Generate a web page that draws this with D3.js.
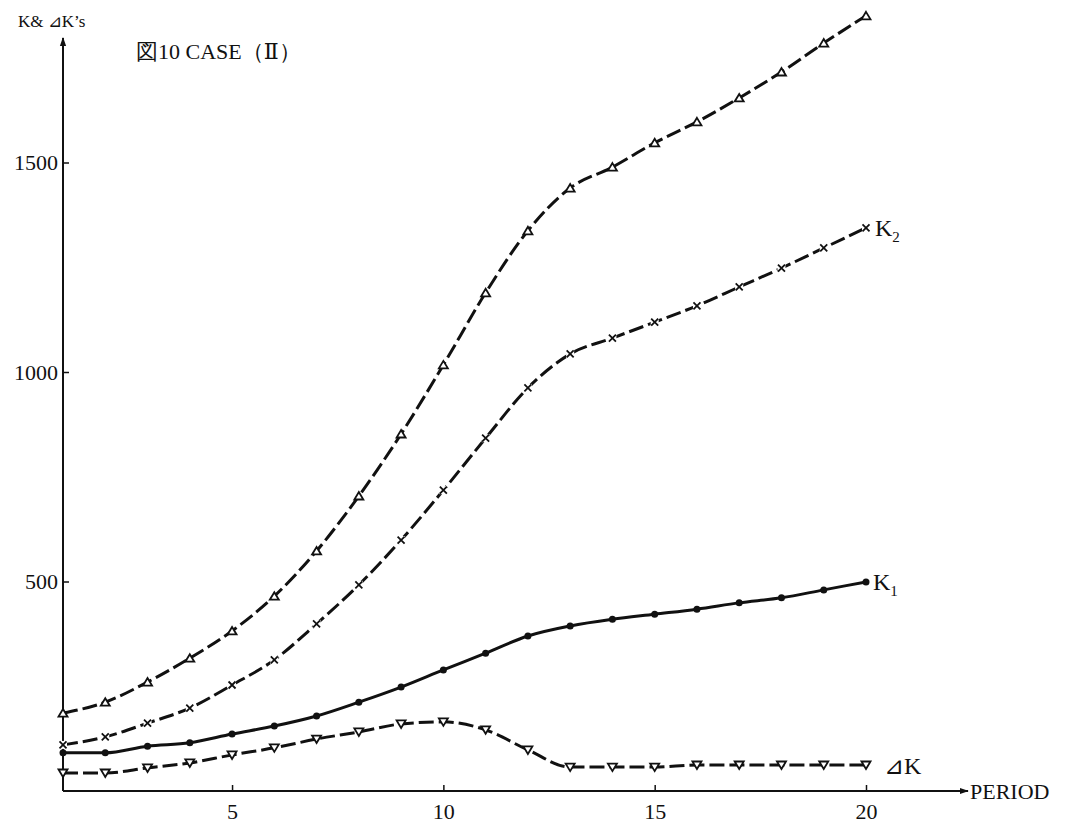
<!DOCTYPE html>
<html>
<head>
<meta charset="utf-8">
<script src="https://cdn.jsdelivr.net/npm/d3@7"></script>
<style>
  body { margin: 0; background: #fff; }
  svg { display: block; font-family: "Liberation Serif", "DejaVu Serif", serif; }
  .tick text { font-size: 22px; fill: #111; font-family: "Liberation Serif", "DejaVu Serif", serif; }
  .tick line { stroke: #111; stroke-width: 1.5; }
</style>
</head>
<body>
<svg></svg>
<script>
// period 1..20
const periods = d3.range(1, 21);
// values
const kTotal = [186, 212, 260, 317, 382, 465, 573, 704, 852, 1017, 1189, 1337, 1439, 1489, 1547, 1597, 1654, 1716, 1785, 1850];
const k2 = [110, 129, 162, 198, 253, 313, 399, 492, 599, 718, 842, 962, 1043, 1081, 1119, 1158, 1203, 1248, 1296, 1344];
const k1 = [91, 91, 107, 115, 136, 155, 179, 212, 248, 289, 329, 370, 394, 410, 422, 434, 449, 461, 480, 499];
const dK = [43, 43, 55, 67, 86, 103, 124, 141, 160, 165, 146, 98, 57, 57, 57, 62, 62, 62, 62, 62];
const xTicks = [5, 10, 15, 20];
const yTicks = [500, 1000, 1500];

const svg = d3.select('svg')
  .attr('width', 1080)
  .attr('height', 826);

const xScale = d3.scaleLinear().domain([1, 20]).range([63, 866]);
const yScale = d3.scaleLinear().domain([0, 1500]).range([791, 162.5]);

const defs = svg.append('defs');
defs.append('marker')
  .attr('id', 'arrow')
  .attr('viewBox', '0 0 10 10')
  .attr('refX', 9).attr('refY', 5)
  .attr('markerWidth', 9).attr('markerHeight', 9)
  .attr('markerUnits', 'userSpaceOnUse')
  .attr('orient', 'auto')
  .append('path')
  .attr('d', 'M0,1.5 L10,5 L0,8.5 Z')
  .attr('fill', '#111');

// axis lines with arrows
svg.append('line')
  .attr('x1', xScale(1)).attr('y1', yScale(0))
  .attr('x2', xScale(1)).attr('y2', 38)
  .attr('stroke', '#111').attr('stroke-width', 2)
  .attr('marker-end', 'url(#arrow)');
svg.append('line')
  .attr('x1', xScale(1)).attr('y1', yScale(0))
  .attr('x2', 968).attr('y2', yScale(0))
  .attr('stroke', '#111').attr('stroke-width', 2)
  .attr('marker-end', 'url(#arrow)');

const xAxisG = svg.append('g')
  .attr('transform', `translate(0,${yScale(0)})`)
  .call(d3.axisBottom(xScale).tickValues(xTicks).tickSize(-6).tickPadding(12).tickFormat(d3.format('d')));
xAxisG.select('.domain').remove();

const yAxisG = svg.append('g')
  .attr('transform', `translate(${xScale(1)},0)`)
  .call(d3.axisLeft(yScale).tickValues(yTicks).tickSize(-6).tickPadding(5).tickFormat(d3.format('d')));
yAxisG.select('.domain').remove();

svg.append('text')
  .attr('x', 970).attr('y', yScale(0) + 8)
  .attr('font-size', 22).attr('fill', '#111')
  .text('PERIOD');

svg.append('text')
  .attr('x', 18).attr('y', 27)
  .attr('font-size', 17).attr('fill', '#111')
  .text('K& ⊿K’s');

svg.append('text')
  .attr('x', 136).attr('y', 59)
  .attr('font-size', 22).attr('fill', '#111')
  .text('図10 CASE（Ⅱ）');

const series = [
  { name: 'total', values: kTotal, dash: '15,5', marker: 'tri' },
  { name: 'K2', values: k2, dash: '15,5', marker: 'cross' },
  { name: 'K1', values: k1, dash: null, marker: 'dot' },
  { name: 'dK', values: dK, dash: '15,5', marker: 'tridown' }
];

const line = d3.line()
  .x((d, i) => xScale(periods[i]))
  .y(d => yScale(d))
  .curve(d3.curveMonotoneX);

series.forEach(s => {
  svg.append('path')
    .attr('d', line(s.values))
    .attr('fill', 'none')
    .attr('stroke', '#111')
    .attr('stroke-width', 3)
    .attr('stroke-dasharray', s.dash);

  const pts = svg.append('g').selectAll('g')
    .data(s.values)
    .join('g')
    .attr('transform', (d, i) => `translate(${xScale(periods[i])},${yScale(d)})`);

  if (s.marker === 'tri') {
    pts.append('path').attr('d', 'M0,-4 L4.5,3.5 L-4.5,3.5 Z')
      .attr('fill', '#fff').attr('stroke', '#111').attr('stroke-width', 1.8);
  } else if (s.marker === 'tridown') {
    pts.append('path').attr('d', 'M0,4 L4.5,-3.5 L-4.5,-3.5 Z')
      .attr('fill', '#fff').attr('stroke', '#111').attr('stroke-width', 1.8);
  } else if (s.marker === 'cross') {
    pts.append('rect').attr('x', -4).attr('y', -4).attr('width', 8).attr('height', 8).attr('fill', '#fff');
    pts.append('path').attr('d', 'M-3.5,-3.5 L3.5,3.5 M-3.5,3.5 L3.5,-3.5')
      .attr('stroke', '#111').attr('stroke-width', 1.8);
  } else {
    pts.append('circle').attr('r', 3.5).attr('fill', '#111');
  }
});

// series labels
const lab = (x, y, main, sub) => {
  const t = svg.append('text')
    .attr('x', x).attr('y', y)
    .attr('font-size', 24).attr('fill', '#111');
  t.append('tspan').text(main);
  if (sub) t.append('tspan').attr('font-size', 15).attr('dy', 6).text(sub);
};
lab(xScale(20) + 9, yScale(k2[19]) + 8, 'K', '2');
lab(xScale(20) + 7, yScale(k1[19]) + 8, 'K', '1');
lab(xScale(20) + 18, yScale(dK[19]) + 9, '⊿K', null);
</script>
</body>
</html>
